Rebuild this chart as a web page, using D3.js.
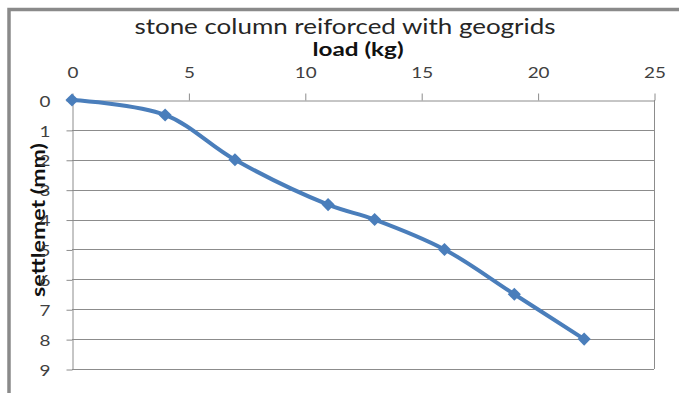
<!DOCTYPE html>
<html>
<head>
<meta charset="utf-8">
<script src="https://cdn.jsdelivr.net/npm/d3@7"></script>
<style>
  html, body { margin: 0; padding: 0; background: #fff; }
  svg { display: block; }
</style>
</head>
<body>
<div id="chart"></div>
<script>
// ---- DATA ----
const loads = [0, 4, 7, 11, 13, 16, 19, 22];
const settlements = [0, 0.5, 2, 3.5, 4, 5, 6.5, 8];
const xTicks = [0, 5, 10, 15, 20, 25];
const yTicks = [0, 1, 2, 3, 4, 5, 6, 7, 8, 9];

const points = loads.map((l, i) => ({ load: l, settle: settlements[i] }));

const W = 679, H = 393;
const plot = { left: 72, right: 654, top: 100, bottom: 369 };
const font = 'Lato, "Open Sans", Arial, sans-serif';
const gridColor = '#8c8c8c';
const blue = '#4a7ebb';
const stretch = 1.3; // reference text is wide, stretch horizontally

const svg = d3.select('#chart').append('svg')
  .attr('width', W).attr('height', H);

// ---- OUTER FRAME (cropped, only left/top visible) ----
svg.append('path')
  .attr('d', `M9,${H} L9,9.5 L${W},9.5`)
  .attr('fill', 'none')
  .attr('stroke', '#8a8a8a')
  .attr('stroke-width', 3.5);

// ---- Y AXIS LABEL (drawn first, tick digits sit on top of it) ----
svg.append('text')
  .attr('transform', 'translate(45,220) rotate(-90) scale(1.22,1)')
  .attr('text-anchor', 'middle')
  .style('font-family', font).style('font-size', '19px').style('font-weight', '700')
  .style('fill', '#111')
  .text('settlemet (mm)');

const x = d3.scaleLinear().domain([0, 25]).range([plot.left, plot.right]);
const y = d3.scaleLinear().domain([0, 9]).range([plot.top, plot.bottom]);

// ---- GRID LINES ----
svg.append('g')
  .selectAll('line').data(yTicks.slice(1)).join('line')
  .attr('x1', plot.left).attr('x2', plot.right)
  .attr('y1', d => Math.round(y(d)) + 0.5).attr('y2', d => Math.round(y(d)) + 0.5)
  .attr('stroke', gridColor).attr('stroke-width', 1);

// right border of plot
svg.append('line')
  .attr('x1', plot.right + 0.5).attr('x2', plot.right + 0.5)
  .attr('y1', plot.top).attr('y2', plot.bottom)
  .attr('stroke', gridColor);

// ---- X AXIS (top) ----
svg.append('g')
  .attr('transform', `translate(0.5, ${plot.top + 0.5})`)
  .call(d3.axisTop(x).tickValues(xTicks).tickSize(7).tickSizeOuter(0))
  .call(g => g.select('.domain').attr('stroke', gridColor))
  .call(g => g.selectAll('line').attr('stroke', gridColor))
  .call(g => g.selectAll('text')
    .attr('x', 0).attr('y', 0).attr('dy', null)
    .attr('transform', `translate(0,-23) scale(${stretch},1)`)
    .style('font-family', font).style('font-size', '14.5px').style('fill', '#404040'));

// ---- Y AXIS (left) ----
svg.append('g')
  .attr('transform', `translate(${plot.left + 0.5}, 0.5)`)
  .call(d3.axisLeft(y).tickValues(yTicks).tickSize(6).tickSizeOuter(0))
  .call(g => g.select('.domain').attr('stroke', gridColor))
  .call(g => g.selectAll('line').attr('stroke', gridColor))
  .call(g => g.selectAll('text')
    .attr('x', 0)
    .attr('transform', `translate(-22,1) scale(${stretch},1)`)
    .style('font-family', font).style('font-size', '14.5px').style('fill', '#404040'));

// ---- LINE ----
const line = d3.line()
  .x(d => x(d.load))
  .y(d => y(d.settle))
  .curve(d3.curveCatmullRom.alpha(0.5));

svg.append('path')
  .datum(points)
  .attr('d', line)
  .attr('fill', 'none')
  .attr('stroke', blue)
  .attr('stroke-width', 4)
  .attr('stroke-linejoin', 'round');

// ---- MARKERS ----
svg.selectAll('.marker').data(points).join('path')
  .attr('class', 'marker')
  .attr('transform', d => `translate(${x(d.load)},${y(d.settle)})`)
  .attr('d', d3.symbol(d3.symbolDiamond2, 110))
  .attr('fill', blue);

// ---- TITLE ----
svg.append('text')
  .attr('transform', 'translate(345,34) scale(1.18,1)')
  .attr('text-anchor', 'middle')
  .style('font-family', font).style('font-size', '22px').style('fill', '#262626')
  .text('stone column reiforced with geogrids');

// ---- X AXIS LABEL ----
svg.append('text')
  .attr('transform', 'translate(358,56) scale(1.35,1)')
  .attr('text-anchor', 'middle')
  .style('font-family', font).style('font-size', '18px').style('font-weight', '700')
  .style('fill', '#111')
  .text('load (kg)');
</script>
</body>
</html>
